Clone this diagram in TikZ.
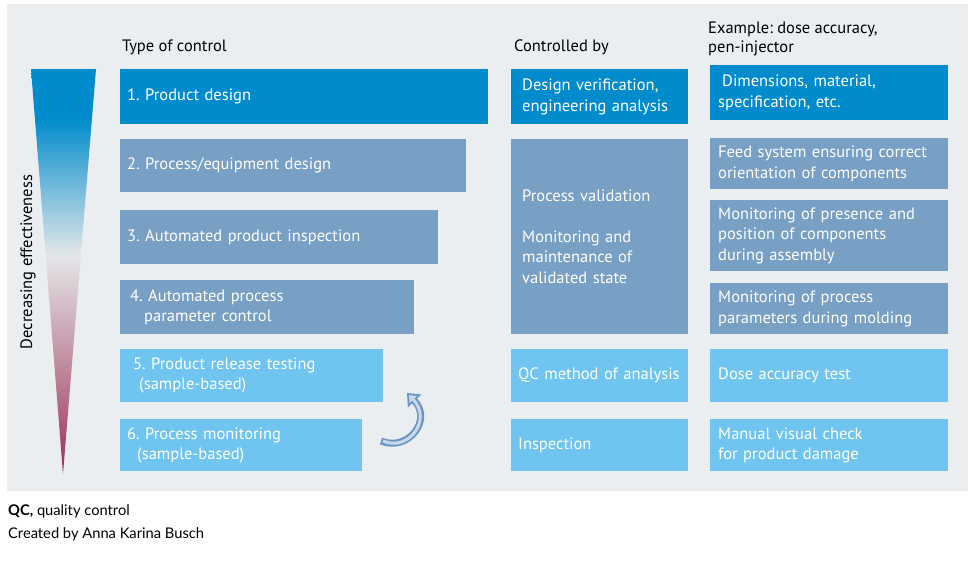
\documentclass[tikz,border=0pt]{standalone}
\usepackage{fontspec}
\setmainfont{PT Sans}
\newfontfamily\notefont{Lato}
\frenchspacing
\usetikzlibrary{arrows.meta}
\definecolor{qcblue}{RGB}{0,139,204}
\definecolor{qcgrey}{RGB}{120,159,196}
\definecolor{qcsky}{RGB}{111,197,240}
\definecolor{qcbg}{RGB}{235,238,240}
\definecolor{qcwine}{RGB}{155,48,82}
\definecolor{qcmist}{RGB}{228,231,233}
\definecolor{arrowline}{RGB}{110,150,196}
\definecolor{arrowfill}{RGB}{200,218,234}
\pgfdeclareverticalshading{effshade}{100bp}{color(0bp)=(qcwine); color(25bp)=(qcwine); color(52bp)=(qcmist); color(69bp)=(qcblue); color(100bp)=(qcblue)}
\tikzset{
  ctrl/.style={anchor=north west, inner xsep=7pt, inner ysep=0pt, align=left, text=white, font=\fontsize{16.5}{20.5}\selectfont},
  colhead/.style={anchor=west, inner sep=0pt, align=left, font=\fontsize{16.5}{19}\selectfont}
}
\begin{document}
\begin{tikzpicture}[x=1pt,y=-1pt]
\useasboundingbox (0,0) rectangle (973,565);
\fill[qcbg] (7,4) rectangle (968,491);

\shade[shading=effshade] (31,69) -- (96,69) -- (63,474) -- cycle;
\node[rotate=90, font=\fontsize{16.5}{19}\selectfont] (eff) at (28,262) {Decreasing effectiveness};

\node[colhead] (typehead) at (122,47.5) {Type of control};
\node[colhead] (byhead) at (514,47.5) {Controlled by};
\node[colhead] (exhead) at (708,38.5) {Example: dose accuracy,\\pen-injector};

\node[ctrl, fill=qcblue, text width=354pt, minimum height=55pt] (pd) at (120,69) {1. Product design};
\node[ctrl, fill=qcgrey, text width=332pt, minimum height=53pt] (ped) at (120,139) {2. Process/equipment design};
\node[ctrl, fill=qcgrey, text width=304pt, minimum height=54pt] (api) at (120,210) {3. Automated product inspection};
\node[ctrl, fill=qcgrey, text width=280pt, minimum height=54pt] (appc) at (120,280) {\hspace*{3pt}4. Automated process\\\hspace*{17pt}parameter control};
\node[ctrl, fill=qcsky, text width=249pt, minimum height=53pt] (prt) at (120,349) {\hspace*{6pt}5. Product release testing\\\hspace*{12pt}(sample-based)};
\node[ctrl, fill=qcsky, text width=228pt, minimum height=52pt] (pm) at (120,419) {6. Process monitoring\\\hspace*{10pt}(sample-based)};

\node[ctrl, fill=qcblue, inner xsep=11pt, text width=155pt, minimum height=55pt] (dv) at (511,69) {Design verification,\\engineering analysis};
\node[ctrl, fill=qcgrey, inner xsep=11pt, text width=155pt, minimum height=195pt] (pv) at (511,139) {Process validation\\[20.5pt]Monitoring and\\maintenance of\\validated state};
\node[ctrl, fill=qcsky, text width=163pt, minimum height=53pt] (qcm) at (511,349) {QC method of analysis};
\node[ctrl, fill=qcsky, text width=163pt, minimum height=52pt] (insp) at (511,419) {Inspection};

\node[ctrl, fill=qcblue, inner xsep=8pt, text width=222pt, minimum height=55pt] (dim) at (710,65) {\hspace*{4pt}Dimensions, material,\\specification, etc.};
\node[ctrl, fill=qcgrey, inner xsep=8pt, text width=222pt, minimum height=51pt] (feed) at (710,138) {Feed system ensuring correct\\orientation of components};
\node[ctrl, fill=qcgrey, inner xsep=8pt, text width=222pt, minimum height=71pt] (pres) at (710,200) {Monitoring of presence and\\position of components\\during assembly};
\node[ctrl, fill=qcgrey, inner xsep=8pt, text width=222pt, minimum height=51pt] (mpp) at (710,283) {Monitoring of process\\parameters during molding};
\node[ctrl, fill=qcsky, inner xsep=8pt, text width=222pt, minimum height=53pt] (dat) at (710,349) {Dose accuracy test};
\node[ctrl, fill=qcsky, inner xsep=8pt, text width=222pt, minimum height=52pt] (mvc) at (710,419) {Manual visual check\\for product damage};

\coordinate (loopstart) at (381,441);
\coordinate (loopend) at (407,393);
\draw[arrowline, line width=7pt, -{Triangle[length=11pt,width=18pt]}] (loopstart) .. controls (408,452) and (433,420) .. (loopend);
\draw[arrowfill, line width=3pt, shorten >=3pt, -{Triangle[length=6pt,width=10pt]}] ([xshift=2pt]loopstart) .. controls (408,452) and (433,420) .. (loopend);

\node[anchor=west, inner sep=0pt, font=\notefont\fontsize{14.7}{17}\selectfont] (qcnote) at (8,511) {\textbf{QC,} quality control};
\node[anchor=west, inner sep=0pt, font=\notefont\fontsize{14.7}{17}\selectfont] (credit) at (8,534) {Created by Anna Karina Busch};
\end{tikzpicture}
\end{document}
